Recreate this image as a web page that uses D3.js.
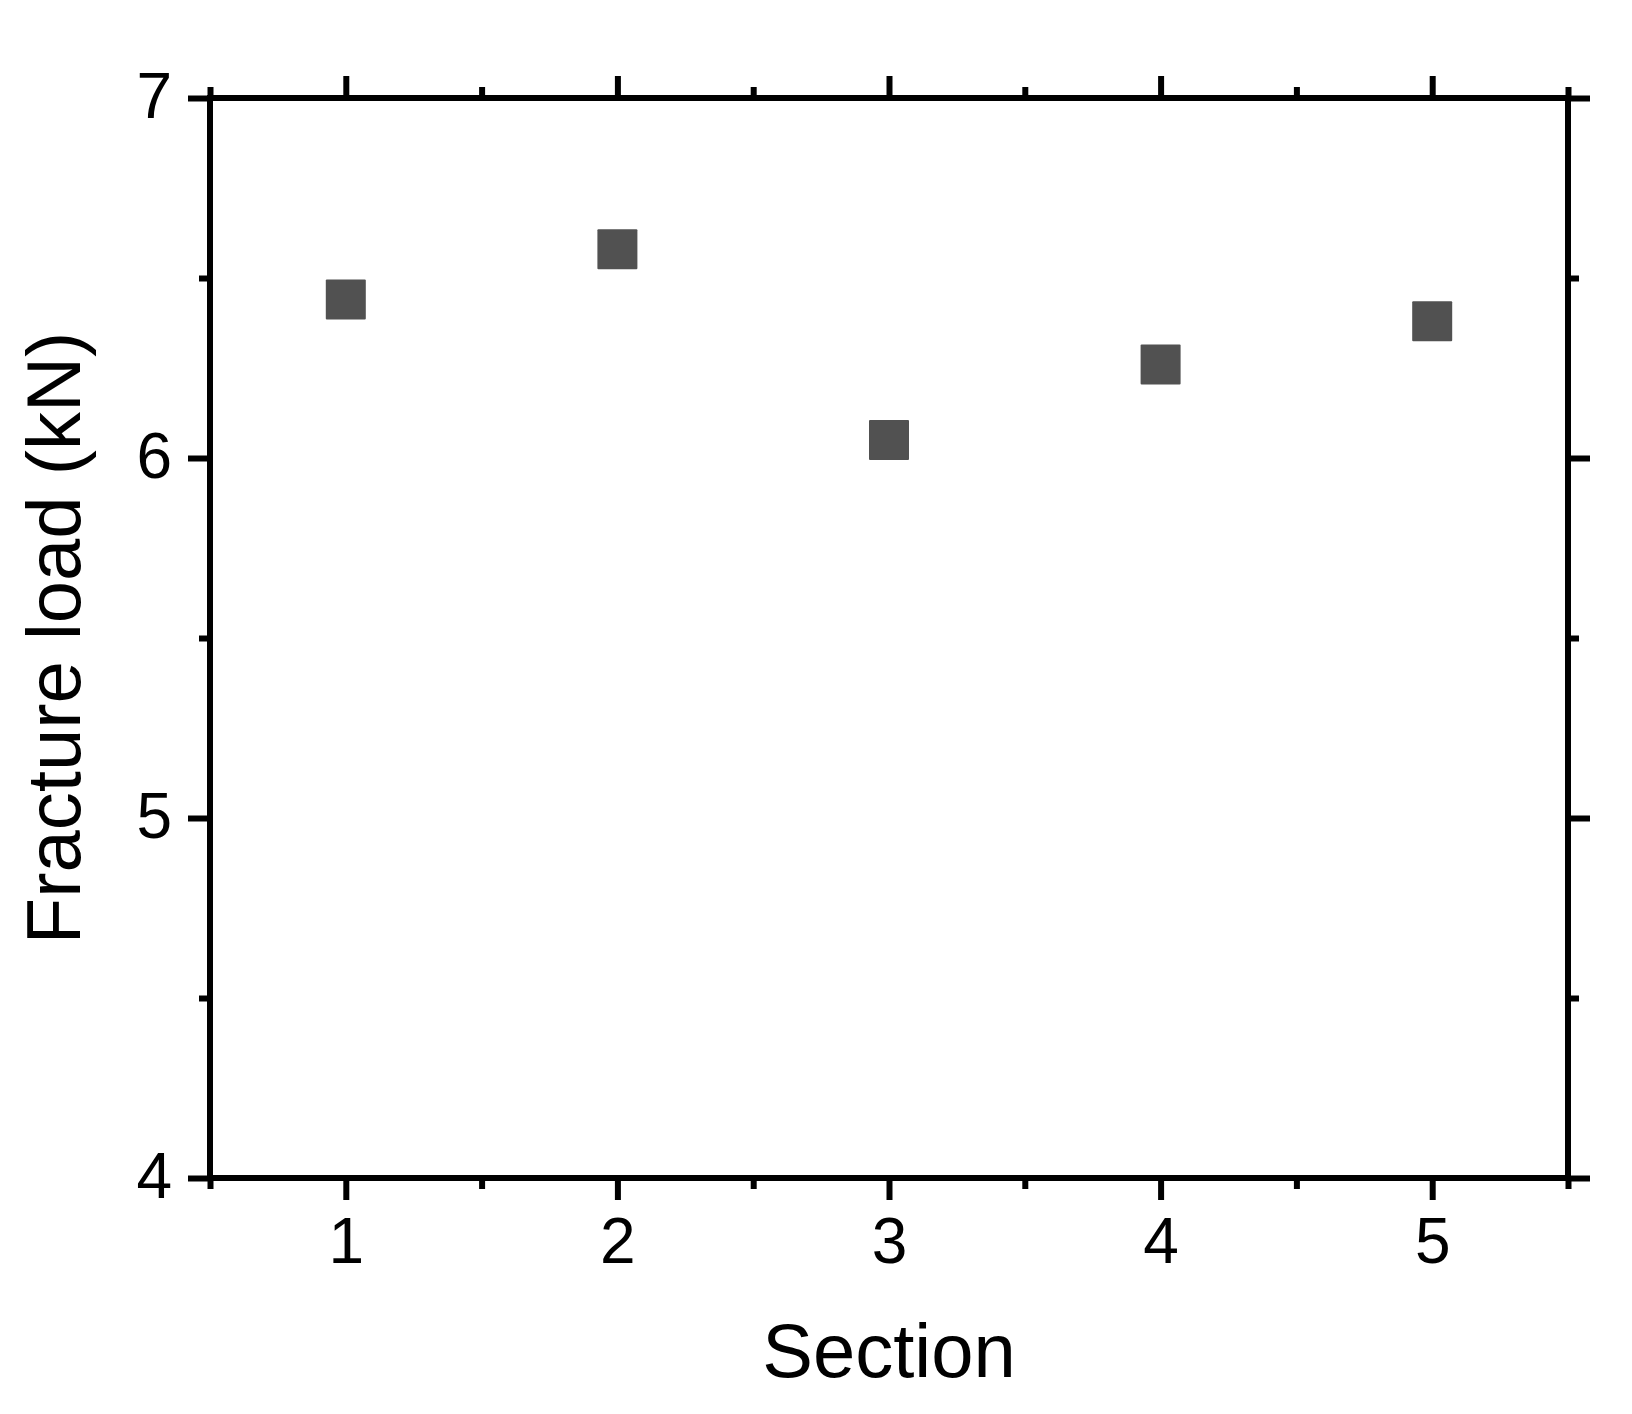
<!DOCTYPE html>
<html>
<head>
<meta charset="utf-8">
<script src="https://cdn.jsdelivr.net/npm/d3@7"></script>
<style>
  html, body { margin: 0; padding: 0; background: #fff; }
  svg { display: block; }
  text { font-family: "Liberation Sans", Arial, sans-serif; fill: #000; }
</style>
</head>
<body>
<script>
// ---- data ----
const sections = [1, 2, 3, 4, 5];
const fractureLoad = [6.44, 6.58, 6.05, 6.26, 6.38];
const xTicks = [1, 2, 3, 4, 5];
const xMinorTicks = [0.5, 1.5, 2.5, 3.5, 4.5, 5.5];
const yTicks = [4, 5, 6, 7];
const yMinorTicks = [4.5, 5.5, 6.5];
const xTitle = "Section";
const yTitle = "Fracture load (kN)";

(function () {
// ---- layout ----
const W = 1632, H = 1414;
const pL = 210, pR = 1568, pT = 98, pB = 1178;
const majorLen = 22, minorLen = 11, lw = 6;

const svg = d3.select("body").append("svg").attr("width", W).attr("height", H);

const x = d3.scaleLinear().domain([0.5, 5.5]).range([pL, pR]);
const y = d3.scaleLinear().domain([4, 7]).range([pB, pT]);

function styleAxis(g, labels) {
  g.select(".domain").remove();
  g.selectAll(".tick line").attr("stroke", "#000").attr("stroke-width", lw);
  if (!labels) g.selectAll(".tick text").remove();
}

// bottom axis
svg.append("g").attr("transform", `translate(0,${pB})`)
  .call(d3.axisBottom(x).tickValues(xMinorTicks).tickSize(minorLen).tickFormat(""))
  .call(g => styleAxis(g, false));
svg.append("g").attr("transform", `translate(0,${pB})`)
  .call(d3.axisBottom(x).tickValues(xTicks).tickSize(majorLen).tickFormat(d3.format("d")))
  .call(g => {
    styleAxis(g, true);
    g.selectAll(".tick text").attr("y", 85).attr("dy", 0)
      .style("font-size", "64px").style("font-family", "'Liberation Sans', Arial, sans-serif").attr("fill", "#000");
  });

// top axis
svg.append("g").attr("transform", `translate(0,${pT})`)
  .call(d3.axisTop(x).tickValues(xMinorTicks).tickSize(minorLen).tickFormat(""))
  .call(g => styleAxis(g, false));
svg.append("g").attr("transform", `translate(0,${pT})`)
  .call(d3.axisTop(x).tickValues(xTicks).tickSize(majorLen).tickFormat(""))
  .call(g => styleAxis(g, false));

// left axis
svg.append("g").attr("transform", `translate(${pL},0)`)
  .call(d3.axisLeft(y).tickValues(yMinorTicks).tickSize(minorLen).tickFormat(""))
  .call(g => styleAxis(g, false));
svg.append("g").attr("transform", `translate(${pL},0)`)
  .call(d3.axisLeft(y).tickValues(yTicks).tickSize(majorLen).tickPadding(16).tickFormat(d3.format("d")))
  .call(g => {
    styleAxis(g, true);
    g.selectAll(".tick text").attr("dy", 19)
      .style("font-size", "64px").style("font-family", "'Liberation Sans', Arial, sans-serif").attr("fill", "#000");
  });

// right axis
svg.append("g").attr("transform", `translate(${pR},0)`)
  .call(d3.axisRight(y).tickValues(yMinorTicks).tickSize(minorLen).tickFormat(""))
  .call(g => styleAxis(g, false));
svg.append("g").attr("transform", `translate(${pR},0)`)
  .call(d3.axisRight(y).tickValues(yTicks).tickSize(majorLen).tickFormat(""))
  .call(g => styleAxis(g, false));

// frame
svg.append("rect")
  .attr("x", pL).attr("y", pT)
  .attr("width", pR - pL).attr("height", pB - pT)
  .attr("fill", "none").attr("stroke", "#000").attr("stroke-width", lw);

// markers
const sz = 40;
svg.append("g").selectAll("rect")
  .data(sections.map((s, i) => ({ s, v: fractureLoad[i] })))
  .join("rect")
  .attr("x", d => x(d.s) - sz / 2)
  .attr("y", d => y(d.v) - sz / 2)
  .attr("width", sz).attr("height", sz)
  .attr("rx", 1)
  .attr("fill", "#515151");

// titles
svg.append("text")
  .attr("x", (pL + pR) / 2).attr("y", 1377)
  .attr("text-anchor", "middle")
  .style("font-size", "76px")
  .text(xTitle);

svg.append("text")
  .attr("transform", `translate(80,${(pT + pB) / 2}) rotate(-90)`)
  .attr("text-anchor", "middle")
  .style("font-size", "76px")
  .text(yTitle);
})();
</script>
</body>
</html>
